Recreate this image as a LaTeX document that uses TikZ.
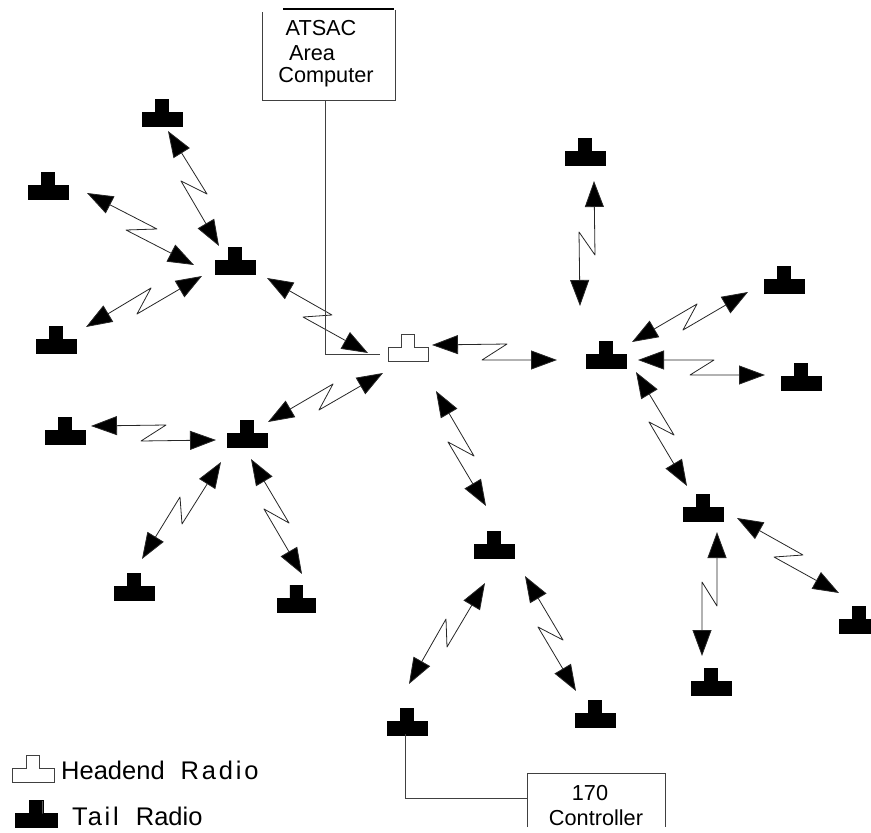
\documentclass[tikz,border=0pt]{standalone}
\usepackage{fontspec}
\setmainfont{Liberation Sans}
\newfontfamily\spacedfont[LetterSpace=11]{Liberation Sans}
\usetikzlibrary{arrows.meta}
\tikzset{
  x=1pt,y=-1pt,
  radiobox/.style={inner sep=0pt,outer sep=0pt,minimum width=#1,minimum height=27pt},
  tailfill/.style={fill=black,draw=black,line width=0.4pt},
  headfill/.style={fill=white,draw=black!75,line width=0.7pt},
  zig/.style={draw=black!85,line width=0.8pt,line join=round,
    {Triangle[length=26pt,width=19pt,fill=black]}-{Triangle[length=26pt,width=19pt,fill=black]}},
  wire/.style={draw=black!75,line width=0.8pt},
  boxtext/.style={inner sep=0pt,font=\fontsize{21.7}{24}\selectfont},
  legendtext/.style={inner sep=0pt,anchor=base west,font=\fontsize{25.5}{28}\selectfont},
}
% name, left, top, width, style
\newcommand\radio[5]{%
  \node[radiobox=#4 pt] (#1) at ({#2+#4/2},{#3+13.5}) {};
  \path[#5] (#1.south west) -- (#1.south east) -- ++(0,-13.5) -- ++({-#4*0.34},0)
    -- ++(0,-13.5) -- ++({-#4*0.32},0) -- ++(0,13.5) -- (#1.west |- 0,{#3+13.5}) -- cycle;
}
% name, tip, kink, kink, tip
\newcommand\zz[5]{%
  \coordinate (#1a) at (#2); \coordinate (#1b) at (#3);
  \coordinate (#1c) at (#4); \coordinate (#1d) at (#5);
  \draw[zig] (#1a) -- (#1b) -- (#1c) -- (#1d);
}
\begin{document}
\begin{tikzpicture}
\useasboundingbox (0,0) rectangle (871,833);
\clip (0,0) rectangle (871,833);

% radios
\radio{head}{388}{334}{40}{headfill}
\radio{A}{142}{99}{40}{tailfill}
\radio{B}{28}{172}{40}{tailfill}
\radio{C}{215}{247}{40}{tailfill}
\radio{D}{36}{326}{40}{tailfill}
\radio{E}{45}{417}{40}{tailfill}
\radio{F}{227}{420}{40}{tailfill}
\radio{G}{114}{573}{40}{tailfill}
\radio{H}{277}{585}{38}{tailfill}
\radio{I}{474}{531}{40}{tailfill}
\radio{J}{387}{708}{40}{tailfill}
\radio{K}{575}{700}{40}{tailfill}
\radio{L}{683}{494}{40}{tailfill}
\radio{M}{691}{668}{40}{tailfill}
\radio{N}{839}{606}{40}{tailfill}
\radio{O}{586}{341}{40}{tailfill}
\radio{P}{764}{266}{40}{tailfill}
\radio{Q}{781}{363}{40}{tailfill}
\radio{R}{565}{138}{40}{tailfill}

% radio links
\zz{ac}{168,131}{207,194}{181,181}{219,246}
\zz{bc}{87,193}{157,229}{126,230}{194,265}
\zz{dc}{86,327}{151,288}{137,314}{202,276}
\zz{ch}{267,278}{332,315}{303,317}{368,353}
\zz{ef}{91,426}{166,425}{141,441}{216,440}
\zz{fh}{268,422}{333,384}{319,410}{383,373}
\zz{fg}{221,462}{182,524}{180,497}{142,559}
\zz{fi}{251,459}{289,523}{264,509}{302,574}
\zz{hi}{436,391}{474,456}{448,442}{486,506}
\zz{ij}{485,583}{447,647}{446,619}{409,684}
\zz{ik}{525,576}{563,640}{538,627}{576,691}
\zz{ho}{432,345}{507,344}{482,360}{557,360}
\zz{ro}{594,181}{595,255}{579,232}{580,306}
\zz{op}{632,342}{697,304}{683,330}{748,292}
\zz{oq}{638,360}{714,360}{690,375}{765,375}
\zz{ol}{636,372}{674,435}{649,422}{687,486}
\zz{lm}{717,532}{717,606}{702,582}{702,656}
\zz{ln}{737,518}{803,555}{774,557}{839,593}

% ATSAC box (open at the top left corner)
\node[minimum width=133pt,minimum height=89pt,inner sep=0pt,outer sep=0pt] (atsac) at (328.5,55.5) {};
\coordinate (atsacTL) at (262,12);
\coordinate (atsacTR) at (395,10);
\draw[wire] (atsacTL) -- (atsac.south west) -- (atsac.south east) -- (atsacTR);
\coordinate (barL) at (283,9);
\coordinate (barR) at (394,9);
\draw[line width=1.6pt] (barL) -- (barR);
\node[boxtext] (t1) at (321,28) {ATSAC};
\node[boxtext] (t2) at (312,53) {Area};
\node[boxtext] (t3) at (326,77) {Computer};
\coordinate (atsacDrop) at (325,100);
\coordinate (atsacCorner) at (325,354);
\coordinate (atsacEnd) at (380,354);
\draw[wire] (atsacDrop) -- (atsacCorner) -- (atsacEnd);

% 170 controller box (cut off at the bottom)
\node[minimum width=138pt,minimum height=54pt,inner sep=0pt,outer sep=0pt] (ctrl) at (596,800) {};
\draw[wire] (ctrl.south west) -- (ctrl.north west) -- (ctrl.north east) -- (ctrl.south east);
\node[boxtext] (c1) at (590,793) {170};
\node[boxtext] (c2) at (596,818) {Controller};
\coordinate (jDrop) at (405,734);
\coordinate (jCorner) at (405,798);
\coordinate (jEnd) at (527,798);
\draw[wire] (jDrop) -- (jCorner) -- (jEnd);

% legend
\radio{lh}{12}{755}{42}{headfill}
\radio{lt}{15}{800}{42}{tailfill}
\node[legendtext] (l1) at (61,779) {Headend\hspace{16pt}{\spacedfont Radio}};
\node[legendtext] (l2) at (72,825) {{\spacedfont Tail}\hspace{17pt}Radio};
\end{tikzpicture}
\end{document}
